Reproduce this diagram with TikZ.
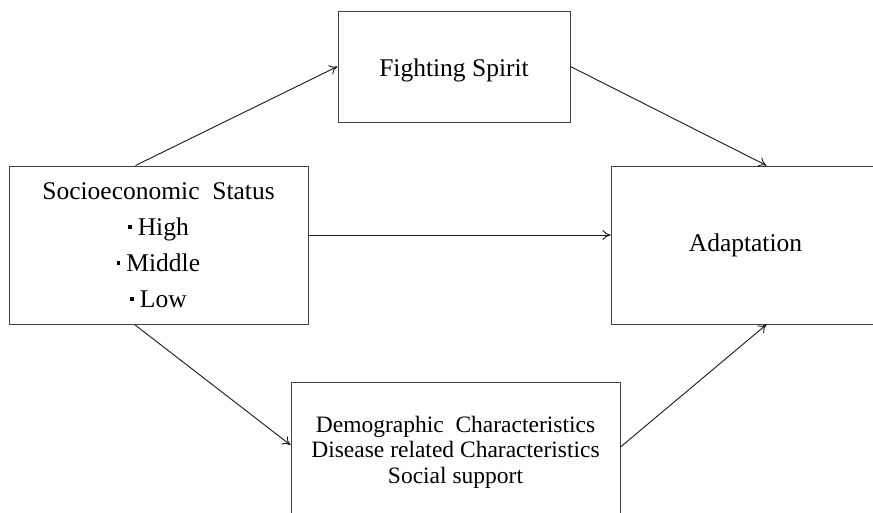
\documentclass[tikz,border=0pt]{standalone}
\usepackage{fontspec}
\setmainfont{Liberation Serif}
\usetikzlibrary{arrows.meta,calc}
\newcommand{\bulletdot}{\raisebox{0.25em}{\rule{3.6pt}{3.6pt}}\kern6pt\relax}
\begin{document}
\begin{tikzpicture}[x=1pt,y=-1pt,
  boxstyle/.style={draw=black!75,line width=1pt,rectangle,inner sep=0pt,align=center,text=black},
  arr/.style={draw=black!90,line width=0.9pt,-{To[length=8pt,width=10pt]}}]
\useasboundingbox (0,0) rectangle (873,512);
\clip (0,0) rectangle (873,512);
\fill[white] (0,0) rectangle (873,512);
\node[boxstyle,minimum width=299pt,minimum height=158pt,font=\fontsize{25.5}{36}\selectfont] (sl) at (158.5,245)
  {Socioeconomic\ \ Status\\ \bulletdot High\\ \bulletdot Middle\\ \bulletdot Low};
\node[boxstyle,minimum width=232pt,minimum height=111pt,font=\fontsize{25.5}{30}\selectfont,text depth=0pt] (fs) at (454,66.5) {\raisebox{-3pt}{Fighting Spirit}};
\node[boxstyle,minimum width=269pt,minimum height=158pt,font=\fontsize{25.5}{30}\selectfont] (ad) at (745.5,245) {\raisebox{-3pt}{Adaptation}};
\node[boxstyle,minimum width=329pt,minimum height=140pt,font=\fontsize{23.5}{25.5}\selectfont] (bb) at (455.5,452)
  {Demographic\ \ Characteristics\\ Disease related Characteristics\\ Social support};
\draw[arr] ($(sl.north west)+(127,0)$) -- (fs.west);
\draw[arr] (fs.east) -- ($(ad.north west)+(156,0)$);
\draw[arr] ($(sl.east)+(0,-10)$) -- ($(ad.west)+(0,-10)$);
\draw[arr] ($(sl.south west)+(126,0)$) -- ($(bb.west)+(0,-7)$);
\draw[arr] ($(bb.east)+(0,-5)$) -- ($(ad.south west)+(156,0)$);
\end{tikzpicture}
\end{document}
